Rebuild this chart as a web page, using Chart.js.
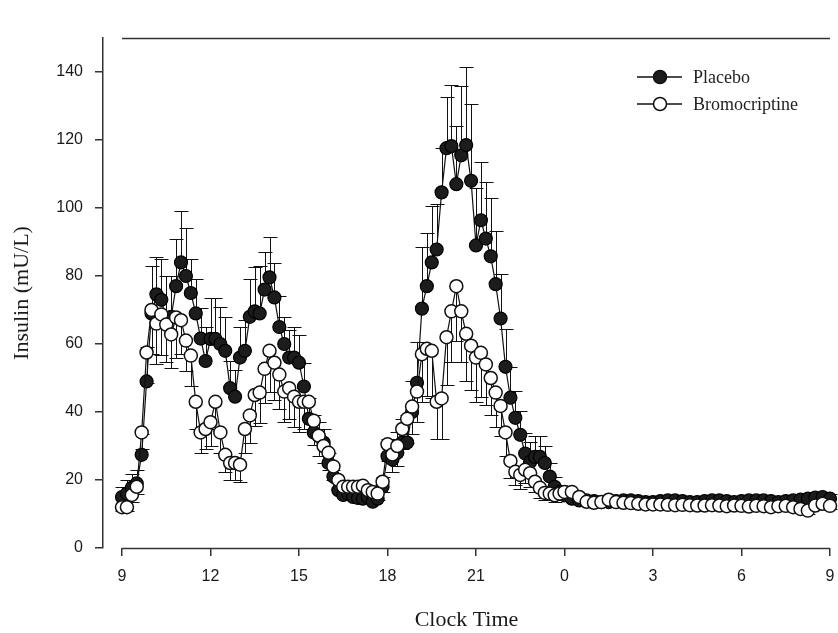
<!DOCTYPE html>
<html>
<head>
<meta charset="utf-8">
<script src="https://cdn.jsdelivr.net/npm/chart.js@4.4.1/dist/chart.umd.min.js"></script>
<style>
html, body { margin: 0; padding: 0; background: #fff; }
#wrap { width: 838px; height: 633px; }
</style>
</head>
<body>
<div id="wrap"><canvas id="insulinChart"></canvas></div>
<script>
// sampling times, minutes after 09:00 (10 min by day, 15 min overnight)
const sampleMinutes = [
  0,10,20,30,40,50,60,70,80,90,100,110,120,130,140,150,160,170,180,190,
  200,210,220,230,240,250,260,270,280,290,300,310,320,330,340,350,360,370,380,390,
  400,410,420,430,440,450,460,470,480,490,500,510,520,530,540,550,560,570,580,590,
  600,610,620,630,640,650,660,670,680,690,700,710,720,730,740,750,760,770,780,790,
  800,810,820,830,840,850,860,870,880,890,900,
  915,930,945,960,975,990,1005,1020,1035,1050,1065,1080,1095,1110,1125,1140,1155,1170,
  1185,1200,1215,1230,1245,1260,1275,1290,1305,1320,1335,1350,1365,1380,1395,1410,1425,1440
];

const placebo = [
  15,16,17.7,19,27.4,49,69,74.6,73,67,68,77,84,80,75,69,61.6,55,61.5,61.5,
  60,58,47,44.5,56,58,68,69.6,69,76,79.6,73.7,65,60,56,56,54.5,47.5,38,34,
  33,31,25,21,17,15.6,16,15,14.7,14.5,15,13.6,14.5,18,27,26,28,31,31,40,
  48.6,70.4,77,84,87.8,104.6,117.6,118.2,107,115.5,118.5,108,89,96.4,91,85.8,77.6,67.5,53.3,44.2,
  38.3,33.3,27.8,25.3,26.8,26.8,25,21,18,16.5,15.5,
  14.5,14,14,13.8,13.5,13.5,13.8,14,14,13.8,13.5,13.5,13.8,14,14,13.8,13.5,13.5,
  13.8,14,14,13.8,13.5,13.8,14,14,14,13.8,13.5,13.8,14,14.2,14.5,14.8,15,14.5
];
const placeboSem = [
  3,4,4,4,6,10,14,11,12,13,12,14,15,14,10,10,9,10,12,12,
  11,10,8,8,9,9,11,13,14,11,12,10,9,8,8,9,8,7,6,5,
  4,4,3,2,2,2,2,2,2,2,2,2,2,3,5,5,6,7,8,9,
  12,18,15.5,16.5,13.5,13,15,18,17,20.5,23,22.6,17,17,16.6,17,15.6,13,11,9,
  8,7,6,6,6,6,5,4,3,2,2,
  1.5,1.5,1.5,1.5,1.5,1.5,1.5,1.5,1.5,1.5,1.5,1.5,1.5,1.5,1.5,1.5,1.5,1.5,
  1.5,1.5,1.5,1.5,1.5,1.5,1.5,1.5,1.5,1.5,1.5,1.5,1.5,1.5,1.5,1.5,1.5,1.5
];

const bromocriptine = [
  12,12,15.6,18,34,57.5,70,66,68.7,65.7,62.8,67.8,67,61,56.6,43,34,35,37,43,
  34,27.4,25,25,24.5,35,39,45,45.7,52.7,58,54.5,51,46,47,44.5,43,43,43,37.4,
  33,30,28,24,20,18,18,18,18,18.3,17,16.5,16,19.5,30.5,27.5,30,35,38,41.6,
  46,57,58.6,58,43,44,62,69.6,77,69.6,63,59.5,56,57.4,54,50,45.7,41.8,34,25.6,
  22.4,21.5,23,22,19.5,17.7,16.2,16,15.5,16,16.5,
  16.5,15,13.6,13.3,13.5,14.2,13.5,13.3,13.2,13,12.8,12.8,12.8,12.7,12.6,12.7,12.6,12.5,
  12.5,12.6,12.5,12.3,12.5,12.4,12.2,12.4,12.3,12,12.3,12.4,12,11.5,11,12.5,13,12.4
];
const bromocriptineSem = [
  1,1,2,2,5,9,13,12,12,11,10,12,10,9,9,8,6,6,7,8,
  6,5,5,5,5,7,8,9,9,10,12,11,10,9,9,9,9,8,8,7,
  6,5,5,4,3,2,2,2,2,2,2,2,2,3,5,5,6,6,7,8,
  9,14,14,14,11,12,14,15,16,15,14,13,13,13,12,11,10,9,7,5,
  4,4,4,4,3,3,2,2,2,2,2,
  1,1,1,1,1,1,1,1,1,1,1,1,1,1,1,1,1,1,
  1,1,1,1,1,1,1,1,1,1,1,1,1,1,1,1,1,1
];

// x axis: hours from 9 (day 1) to 33 (09:00 next day)
const xTickValues = [9, 12, 15, 18, 21, 24, 27, 30, 33];
const xTickLabels = ['9', '12', '15', '18', '21', '0', '3', '6', '9'];
const yTickValues = [0, 20, 40, 60, 80, 100, 120, 140];

function toPoints(values) {
  return values.map((v, i) => ({ x: 9 + sampleMinutes[i] / 60, y: v }));
}

const errorBars = {
  id: 'errorBars',
  beforeDatasetsDraw(chart) {
    const ctx = chart.ctx, xs = chart.scales.x, ys = chart.scales.y;
    ctx.save();
    ctx.strokeStyle = '#111';
    ctx.lineWidth = 1;
    chart.data.datasets.forEach(ds => {
      ds.sem.forEach((e, i) => {
        const p = ds.data[i];
        const x = Math.round(xs.getPixelForValue(p.x)) + 0.5;
        const y0 = ys.getPixelForValue(p.y);
        const y1 = Math.round(ys.getPixelForValue(p.y + ds.semDir * e)) + 0.5;
        ctx.beginPath();
        ctx.moveTo(x, y0);
        ctx.lineTo(x, y1);
        ctx.moveTo(x - 7, y1);
        ctx.lineTo(x + 7, y1);
        ctx.stroke();
      });
    });
    ctx.restore();
  }
};

const frameAndLegend = {
  id: 'frameAndLegend',
  afterDraw(chart) {
    const ctx = chart.ctx, xs = chart.scales.x, area = chart.chartArea;
    const x0 = xs.getPixelForValue(9), x1 = xs.getPixelForValue(33);
    ctx.save();
    ctx.strokeStyle = '#333';
    ctx.lineWidth = 1.5;
    ctx.beginPath();
    ctx.moveTo(x0, area.bottom + 0.5);
    ctx.lineTo(x1, area.bottom + 0.5);
    ctx.moveTo(x0, area.top + 0.5);
    ctx.lineTo(x1, area.top + 0.5);
    ctx.stroke();

    // legend
    const items = [
      { text: 'Placebo', fill: '#1c1c1c', y: 77 },
      { text: 'Bromocriptine', fill: '#fff', y: 104 }
    ];
    items.forEach(it => {
      ctx.strokeStyle = '#111';
      ctx.lineWidth = 1.3;
      ctx.beginPath();
      ctx.moveTo(637, it.y);
      ctx.lineTo(682, it.y);
      ctx.stroke();
      ctx.beginPath();
      ctx.arc(660, it.y, 6.5, 0, Math.PI * 2);
      ctx.fillStyle = it.fill;
      ctx.fill();
      ctx.lineWidth = 1.5;
      ctx.stroke();
      ctx.fillStyle = '#222';
      ctx.font = '18px "Liberation Serif", "Times New Roman", serif';
      ctx.textBaseline = 'middle';
      ctx.fillText(it.text, 693, it.y + 1);
    });
    ctx.restore();
  }
};

new Chart(document.getElementById('insulinChart'), {
  type: 'line',
  data: {
    datasets: [{
      label: 'Placebo',
      data: toPoints(placebo),
      sem: placeboSem,
      semDir: 1,
      order: 1,
      borderColor: '#111',
      borderWidth: 1.2,
      pointRadius: 6.5,
      pointBackgroundColor: '#1c1c1c',
      pointBorderColor: '#000',
      pointBorderWidth: 1.2,
      tension: 0,
      clip: false
    }, {
      label: 'Bromocriptine',
      data: toPoints(bromocriptine),
      sem: bromocriptineSem,
      semDir: -1,
      order: 0,
      borderColor: '#111',
      borderWidth: 1.2,
      pointRadius: 6.5,
      pointBackgroundColor: '#fff',
      pointBorderColor: '#111',
      pointBorderWidth: 1.5,
      tension: 0,
      clip: false
    }]
  },
  options: {
    responsive: true,
    maintainAspectRatio: false,
    animation: false,
    layout: { padding: { top: 38, right: 8, bottom: 0, left: 0 } },
    plugins: { legend: { display: false }, tooltip: { enabled: false } },
    scales: {
      x: {
        type: 'linear',
        min: 9 - 19 / 29.5,
        max: 33,
        afterFit(scale) {
          scale.height = 85;
          scale.paddingLeft = 0;
          scale.paddingRight = 0;
        },
        afterBuildTicks(scale) { scale.ticks = xTickValues.map(v => ({ value: v })); },
        border: { display: false },
        grid: { drawOnChartArea: false, drawTicks: true, tickLength: 8, color: '#333', lineWidth: 1.5 },
        ticks: {
          padding: 11,
          color: '#1a1a1a',
          font: { family: '"Liberation Sans", Arial, sans-serif', size: 16 },
          maxRotation: 0,
          callback: (v) => xTickLabels[xTickValues.indexOf(v)]
        },
        title: {
          display: true,
          text: 'Clock Time',
          color: '#1a1a1a',
          padding: { top: 0, bottom: 0 },
          font: { family: '"Liberation Serif", "Times New Roman", serif', size: 22 }
        }
      },
      y: {
        min: 0,
        max: 150,
        afterFit(scale) { scale.width = 103; },
        afterBuildTicks(scale) { scale.ticks = yTickValues.map(v => ({ value: v })); },
        border: { display: true, color: '#333', width: 1.5 },
        grid: { drawOnChartArea: false, drawTicks: true, tickLength: 8, color: '#333', lineWidth: 1.5 },
        ticks: {
          padding: 12,
          color: '#1a1a1a',
          font: { family: '"Liberation Sans", Arial, sans-serif', size: 16 }
        },
        title: {
          display: true,
          text: 'Insulin (mU/L)',
          color: '#1a1a1a',
          padding: { top: 9, bottom: 0 },
          font: { family: '"Liberation Serif", "Times New Roman", serif', size: 22 }
        }
      }
    }
  },
  plugins: [errorBars, frameAndLegend]
});
</script>
</body>
</html>
